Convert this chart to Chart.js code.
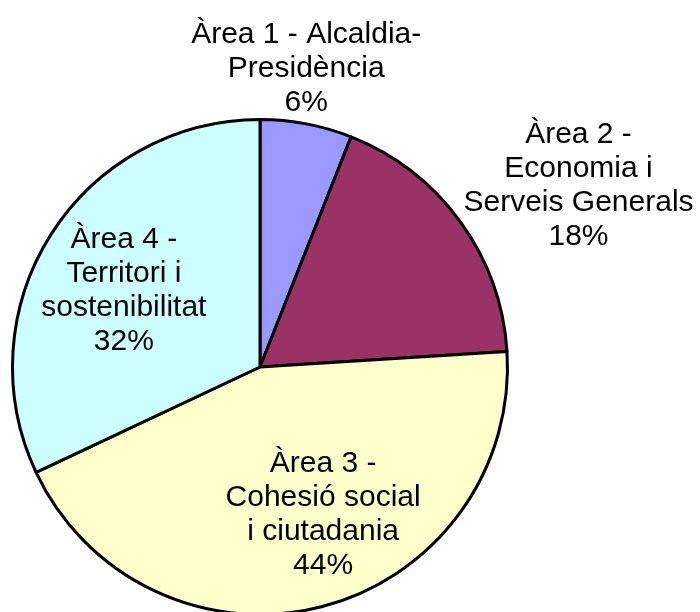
<!DOCTYPE html>
<html>
<head>
<meta charset="utf-8">
<script src="https://cdn.jsdelivr.net/npm/chart.js@4/dist/chart.umd.min.js"></script>
<style>
  html, body { margin: 0; padding: 0; background: #fff; overflow: hidden; }
  canvas { display: block; }
</style>
</head>
<body>
<canvas id="myChart" width="700" height="620"></canvas>
<script>
const areaLabels = [
  ["Àrea 1 - Alcaldia-", "Presidència"],
  ["Àrea 2 -", "Economia i", "Serveis Generals"],
  ["Àrea 3 -", "Cohesió social", "i ciutadania"],
  ["Àrea 4 -", "Territori i", "sostenibilitat"],
];
const shares = [6, 18, 44, 32];
const sliceColors = ["#9999FF", "#993366", "#FFFFCC", "#CCFFFF"];

// label placement: radius factor and angle shift (degrees) from the slice middle
const labelRadius = [1.22, 1.48, 0.65, 0.63];
const labelShift = [-2, 6.4, -8.7, -3.2];

const sliceLabels = {
  id: "sliceLabels",
  afterDatasetsDraw(chart) {
    const ctx = chart.ctx;
    const arcs = chart.getDatasetMeta(0).data;
    ctx.save();
    ctx.font = "30px 'Liberation Sans', Arial, sans-serif";
    ctx.fillStyle = "#000";
    ctx.textAlign = "center";
    ctx.textBaseline = "middle";
    arcs.forEach((arc, i) => {
      const mid = (arc.startAngle + arc.endAngle) / 2 + labelShift[i] * Math.PI / 180;
      const r = arc.outerRadius * labelRadius[i];
      const cx = arc.x + Math.cos(mid) * r;
      const cy = arc.y + Math.sin(mid) * r;
      const lines = [...areaLabels[i], shares[i] + "%"];
      const lh = 34;
      const top = cy - (lines.length - 1) * lh / 2;
      lines.forEach((t, j) => ctx.fillText(t, cx, top + j * lh));
    });
    ctx.restore();
  },
};

new Chart("myChart", {
  type: "pie",
  data: {
    labels: areaLabels.map((l) => l.join(" ")),
    datasets: [
      {
        data: shares,
        backgroundColor: sliceColors,
        borderColor: "#000",
        borderWidth: 3,
      },
    ],
  },
  options: {
    responsive: false,
    animation: false,
    layout: { padding: { left: 11, right: 191, top: 118, bottom: 4 } },
    plugins: {
      legend: { display: false },
      tooltip: { enabled: false },
    },
  },
  plugins: [sliceLabels],
});
</script>
</body>
</html>
